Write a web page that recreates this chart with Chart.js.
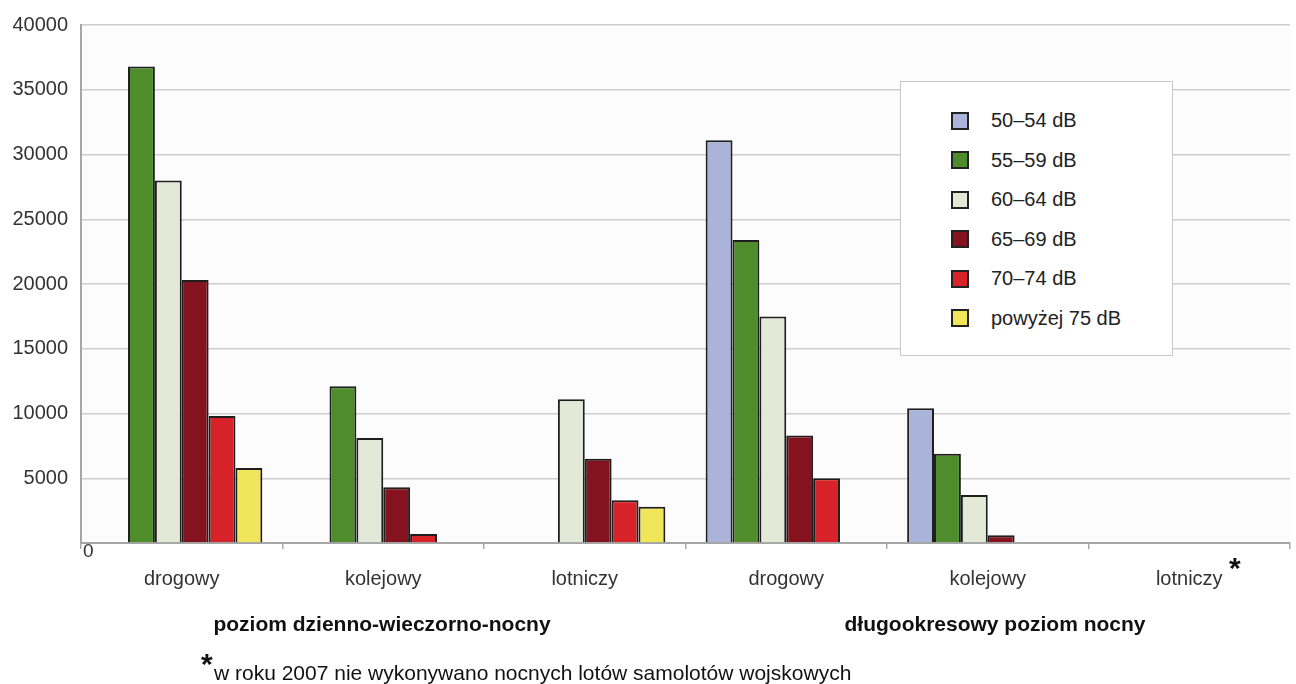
<!DOCTYPE html>
<html lang="pl">
<head>
<meta charset="utf-8">
<title>Hałas – liczba narażonych osób</title>
<script src="https://cdn.jsdelivr.net/npm/chart.js@4/dist/chart.umd.min.js"></script>
<style>
  html, body { margin: 0; padding: 0; background: #fff; }
  #wrap { position: relative; width: 1296px; height: 684px; font-family: "Liberation Sans", Arial, sans-serif; color: #222; }
  #chart { position: absolute; left: 0; top: 0; }
  .legend { position: absolute; left: 900px; top: 81px; width: 273px; height: 275px; background: #fff; border: 1.5px solid #c9c9c9; padding-top: 19px; box-sizing: border-box; }
  .legend-row { height: 39.5px; display: flex; align-items: center; padding-left: 50px; font-size: 20px; }
  .legend-box { width: 14px; height: 14px; border: 2px solid #222; margin-right: 22px; }
  .group-label { position: absolute; top: 612px; font-size: 21px; font-weight: bold; transform: translateX(-50%); white-space: nowrap; color: #111; }
  .zero { position: absolute; left: 83px; top: 540px; font-size: 19px; color: #333; }
  .star { position: absolute; font-size: 30px; font-weight: bold; color: #111; }
  .note { position: absolute; left: 214px; top: 661px; font-size: 21px; color: #111; white-space: nowrap; }
</style>
</head>
<body>
<div id="wrap">
  <canvas id="chart" width="1296" height="684"></canvas>
  <div class="legend" id="legend"></div>
  <div class="zero">0</div>
  <div class="group-label" style="left:382px">poziom dzienno-wieczorno-nocny</div>
  <div class="group-label" style="left:995px">długookresowy poziom nocny</div>
  <div class="star" style="left:1229px; top:551px">*</div>
  <div class="star" style="left:201px; top:647px">*</div>
  <div class="note">w roku 2007 nie wykonywano nocnych lotów samolotów wojskowych</div>
</div>
<script>
const categories = ["drogowy", "kolejowy", "lotniczy", "drogowy", "kolejowy", "lotniczy"];
const seriesLabels = ["50–54 dB", "55–59 dB", "60–64 dB", "65–69 dB", "70–74 dB", "powyżej 75 dB"];
const seriesColors = ["#aab4da", "#4f8c2b", "#e3e9d6", "#85131f", "#d82229", "#f1e65a"];

// null = brak słupka
const db50_54 = [null, null, null, 31100, 10400, null];
const db55_59 = [36800, 12100, null, 23400, 6900, null];
const db60_64 = [28000, 8100, 11100, 17500, 3700, null];
const db65_69 = [20300, 4300, 6500, 8300, 600, null];
const db70_74 = [9800, 700, 3300, 5000, null, null];
const db75up = [5800, null, 2800, null, null, null];

const yTicks = [0, 5000, 10000, 15000, 20000, 25000, 30000, 35000, 40000];

const seriesValues = [db50_54, db55_59, db60_64, db65_69, db70_74, db75up];

const legendEl = document.getElementById("legend");
seriesLabels.forEach((label, i) => {
  const row = document.createElement("div");
  row.className = "legend-row";
  row.innerHTML = `<span class="legend-box" style="background:${seriesColors[i]}"></span><span>${label}</span>`;
  legendEl.appendChild(row);
});

const plotBackground = {
  id: "plotBackground",
  beforeDraw(chart) {
    const { ctx, chartArea } = chart;
    ctx.save();
    ctx.fillStyle = "#fcfcfc";
    ctx.fillRect(chartArea.left, chartArea.top, chartArea.right - chartArea.left, chartArea.bottom - chartArea.top);
    ctx.restore();
  },
};

new Chart(document.getElementById("chart"), {
  type: "bar",
  data: {
    labels: categories,
    datasets: seriesValues.map((values, i) => ({
      label: seriesLabels[i],
      data: values,
      backgroundColor: seriesColors[i],
      borderColor: "#1e1e1e",
      borderWidth: 2,
      borderSkipped: "bottom",
    })),
  },
  options: {
    responsive: false,
    animation: false,
    layout: { padding: { top: 20, right: 6, left: 0, bottom: 0 } },
    datasets: { bar: { categoryPercentage: 0.8, barPercentage: 1.0 } },
    plugins: {
      legend: { display: false },
      tooltip: { enabled: false },
    },
    scales: {
      x: {
        offset: true,
        afterFit(scale) { scale.height = 141; },
        grid: { display: true, drawOnChartArea: false, offset: true, tickLength: 6, color: "#aaa", lineWidth: 1.5 },
        border: { color: "#a6a6a6", width: 2 },
        ticks: { padding: 18, color: "#333", font: { family: "Liberation Sans", size: 20 } },
      },
      y: {
        min: 0,
        max: 40000,
        afterFit(scale) { scale.width = 81; },
        afterBuildTicks(scale) { scale.ticks = yTicks.map((v) => ({ value: v })); },
        grid: { color: "#cdcdcd", lineWidth: 1.5, drawTicks: false },
        border: { color: "#a6a6a6", width: 2 },
        ticks: {
          padding: 13,
          color: "#333",
          font: { family: "Liberation Sans", size: 20 },
          callback: (v) => (v === 0 ? "" : String(v)),
        },
      },
    },
  },
  plugins: [plotBackground],
});
</script>
</body>
</html>
